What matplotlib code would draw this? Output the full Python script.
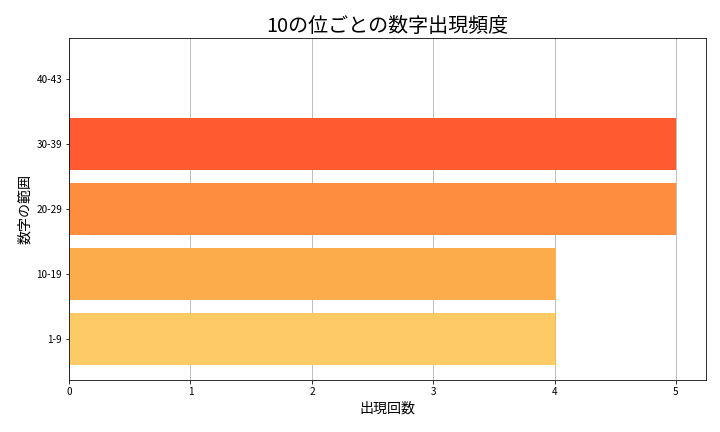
import matplotlib
matplotlib.use('agg')
import matplotlib.pyplot as plt

plt.rcParams['font.family'] = ['Noto Sans CJK JP', 'DejaVu Sans']

ranges = ['1-9', '10-19', '20-29', '30-39', '40-43']
counts = [4, 4, 5, 5, 0]
colors = ['#FECA66', '#FDAC4C', '#FE8E3E', '#FE5B30', '#FC3A22']

fig, ax = plt.subplots(figsize=(10, 6), dpi=72)
fig.subplots_adjust(left=0.096, right=0.981, top=0.912, bottom=0.12)

ax.barh(ranges, counts, color=colors, height=0.8)
ax.set_axisbelow(True)
ax.grid(axis='x', color='#b0b0b0', linewidth=0.8)

ax.set_title('10の位ごとの数字出現頻度', fontsize=20)
ax.set_xlabel('出現回数', fontsize=14)
ax.set_ylabel('数字の範囲', fontsize=14)
ax.tick_params(labelsize=10)

fig.savefig('out.png', dpi=72)
